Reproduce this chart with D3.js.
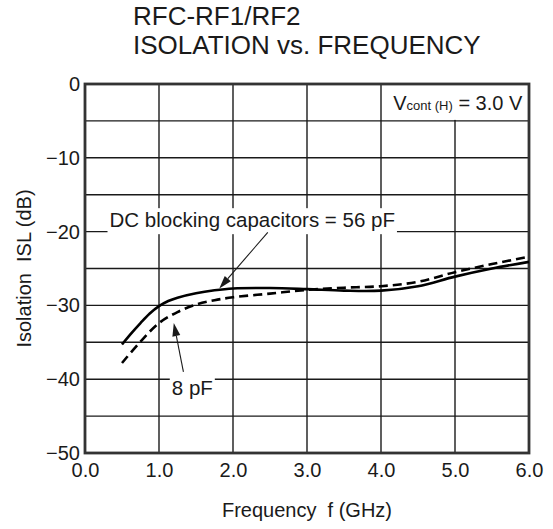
<!DOCTYPE html>
<html><head><meta charset="utf-8">
<script src="https://cdn.jsdelivr.net/npm/d3@7"></script>
<style>
html,body{margin:0;padding:0;background:#fff;}
svg{display:block;font-family:"Liberation Sans",Arial,Helvetica,sans-serif;}
</style></head>
<body>
<svg id="c" width="553" height="529"></svg>
<script>
const titleLines = ["RFC-RF1/RF2", "ISOLATION vs. FREQUENCY"];
const xTicks = [0,1,2,3,4,5,6];
const yTicks = [0,-10,-20,-30,-40,-50];
const yGrid = [0,-5,-10,-15,-20,-25,-30,-35,-40,-45,-50];
const freq56 = [0.5,0.625,0.75,0.875,1.0,1.125,1.25,1.5,1.75,2.0,2.5,3.0,3.5,4.0,4.5,5.0,5.5,6.0];
const isl56  = [-35.3,-33.8,-32.4,-31.1,-30.1,-29.4,-28.95,-28.35,-27.95,-27.7,-27.65,-27.8,-28.0,-28.0,-27.4,-26.1,-25.0,-24.1];
const freq8 = [0.5,0.75,1.0,1.25,1.5,1.75,2.0,2.5,3.0,3.5,4.0,4.5,5.0,5.5,6.0];
const isl8  = [-37.8,-34.9,-32.4,-30.9,-29.9,-29.3,-28.9,-28.4,-27.9,-27.6,-27.4,-26.8,-25.5,-24.4,-23.4];

const svg = d3.select("#c");
const L=85,R=529,T=84,B=453;
const x = d3.scaleLinear().domain([0,6]).range([L,R]);
const y = d3.scaleLinear().domain([-50,0]).range([B,T]);
const ink="#1a1a1a";

// title
svg.append("text").attr("x",133).attr("y",25).attr("font-size",26).attr("fill",ink).text(titleLines[0]);
svg.append("text").attr("x",133).attr("y",54).attr("font-size",26).attr("fill",ink).text(titleLines[1]);

// grid
const g = svg.append("g");
g.selectAll(".hg").data(yGrid).join("line")
  .attr("x1",L).attr("x2",R).attr("y1",d=>y(d)).attr("y2",d=>y(d))
  .attr("stroke",ink).attr("stroke-width",1.4);
g.selectAll(".vg").data(xTicks).join("line")
  .attr("x1",d=>x(d)).attr("x2",d=>x(d)).attr("y1",T).attr("y2",B)
  .attr("stroke",ink).attr("stroke-width",1.4);

// condition label box (covers the 5.0 gridline in top cell)
g.append("rect").attr("x",x(4)+1).attr("y",y(0)+1).attr("width",x(6)-x(4)-2).attr("height",y(-5)-y(0)-2).attr("fill","#fff");
const vt = svg.append("text").attr("x",x(5.91)).attr("y",y(-3.5)).attr("text-anchor","end").attr("fill",ink).attr("font-size",20);
vt.append("tspan").text("V");
vt.append("tspan").attr("font-size",13).text("cont (H)");
vt.append("tspan").text(" = 3.0 V");

// frame
svg.append("rect").attr("x",L).attr("y",T).attr("width",R-L).attr("height",B-T)
  .attr("fill","none").attr("stroke","#333").attr("stroke-width",2.8);

// axes tick labels
const xAxis = d3.axisBottom(x).tickValues(xTicks).tickSize(0).tickPadding(0).tickFormat(d3.format(".1f"));
const xa = svg.append("g").attr("transform",`translate(0,${B})`).call(xAxis);
xa.select(".domain").remove();
xa.selectAll("text").attr("font-size",20).attr("fill",ink).attr("font-family","Liberation Sans, Arial, sans-serif").attr("dy","1.2em");

const yAxis = d3.axisLeft(y).tickValues(yTicks).tickSize(0).tickPadding(5).tickFormat(d=>d===0?"0":"\u2212"+Math.abs(d));
const ya = svg.append("g").attr("transform",`translate(${L},0)`).call(yAxis);
ya.select(".domain").remove();
ya.selectAll("text").attr("font-size",20).attr("fill",ink).attr("font-family","Liberation Sans, Arial, sans-serif");

// axis titles
svg.append("text").attr("x",(L+R)/2).attr("y",517).attr("text-anchor","middle").attr("font-size",20).attr("fill",ink)
  .attr("xml:space","preserve").text("Frequency  f (GHz)");
svg.append("text").attr("transform",`translate(31,${(T+B)/2}) rotate(-90)`).attr("text-anchor","middle").attr("font-size",20).attr("fill",ink)
  .attr("xml:space","preserve").text("Isolation  ISL (dB)");

// curves
const line = d3.line().x(d=>x(d[0])).y(d=>y(d[1])).curve(d3.curveCatmullRom.alpha(0.5));
svg.append("path").attr("d",line(freq56.map((f,i)=>[f,isl56[i]])))
  .attr("fill","none").attr("stroke","#000").attr("stroke-width",2.6);
svg.append("path").attr("d",line(freq8.map((f,i)=>[f,isl8[i]])))
  .attr("fill","none").attr("stroke","#000").attr("stroke-width",2.6).attr("stroke-dasharray","9,5");

// annotations
function arrow(f0,d0,f1,d1){
  const x0=x(f0),y0=y(d0),x1=x(f1),y1=y(d1);
  const a=Math.atan2(y1-y0,x1-x0), len=13, w=4;
  const bx=x1-len*Math.cos(a), by=y1-len*Math.sin(a);
  svg.append("line").attr("x1",x0).attr("y1",y0).attr("x2",bx).attr("y2",by).attr("stroke",ink).attr("stroke-width",1.1);
  svg.append("path").attr("d",`M${x1},${y1}L${bx+w*Math.sin(a)},${by-w*Math.cos(a)}L${bx-w*Math.sin(a)},${by+w*Math.cos(a)}Z`).attr("fill",ink);
}
function label(txt,f,d,fs){
  const t = svg.append("text").attr("x",x(f)).attr("y",y(d)).attr("text-anchor","middle").attr("font-size",fs).attr("fill",ink).text(txt);
  const bb=t.node().getBBox();
  svg.insert("rect",()=>t.node()).attr("x",bb.x-2).attr("y",bb.y).attr("width",bb.width+4).attr("height",bb.height+3).attr("fill","#fff");
}
label("DC blocking capacitors = 56 pF",2.26,-19.4,20.5);
arrow(2.47,-20.1,1.815,-27.7);
label("8 pF",1.45,-42.1,20.5);
arrow(1.33,-39.0,1.20,-32.4);
</script>
</body></html>
